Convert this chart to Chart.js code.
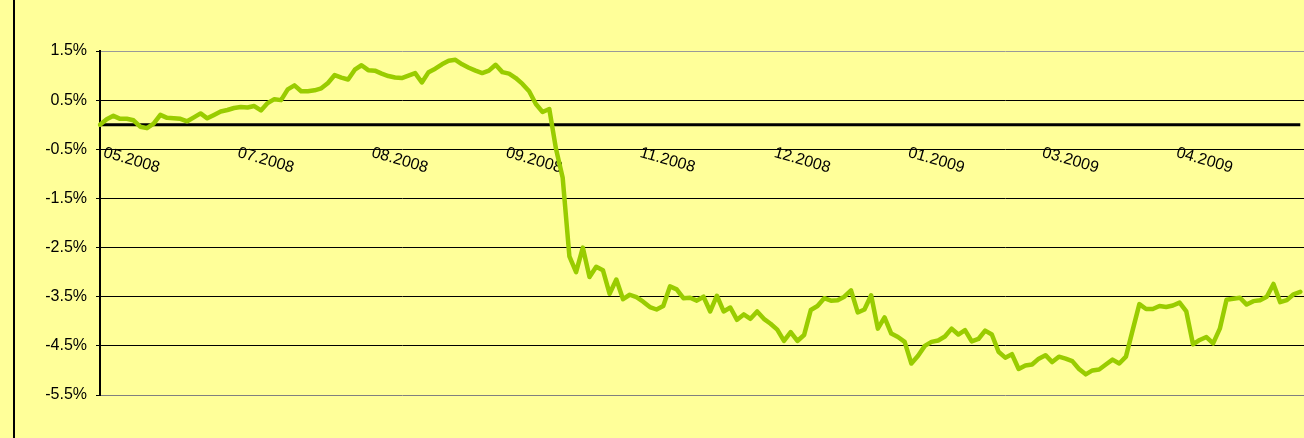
<!DOCTYPE html>
<html>
<head>
<meta charset="utf-8">
<script src="https://cdn.jsdelivr.net/npm/chart.js@4.4.1/dist/chart.umd.min.js"></script>
<style>
  html, body { margin: 0; padding: 0; background: #FFFF99; overflow: hidden; }
  #wrap { position: relative; width: 1307px; height: 438px; }
  #frame { position: absolute; left: 13px; top: 0; bottom: 0; border-left: 2px solid #000; }
</style>
</head>
<body>
<div id="wrap">
  <canvas id="chart" width="1307" height="438"></canvas>
  <div id="frame"></div>
</div>
<script>
// month labels shown every labelStep points
var tickLabels = ['05.2008', '07.2008', '08.2008', '09.2008', '11.2008', '12.2008', '01.2009', '03.2009', '04.2009']
var labelStep = 20

// cumulative return, %
var returns = [
  0.00, 0.11, 0.18, 0.12, 0.12, 0.09, -0.04, -0.07, 0.02, 0.20,
  0.14, 0.13, 0.12, 0.07, 0.15, 0.23, 0.13, 0.20, 0.27, 0.30,
  0.34, 0.36, 0.35, 0.38, 0.29, 0.44, 0.52, 0.50, 0.72, 0.80,
  0.68, 0.68, 0.70, 0.74, 0.85, 1.01, 0.96, 0.92, 1.12, 1.21,
  1.11, 1.10, 1.04, 0.99, 0.96, 0.95, 1.00, 1.05, 0.86, 1.07,
  1.14, 1.23, 1.30, 1.32, 1.23, 1.16, 1.10, 1.05, 1.10, 1.22,
  1.07, 1.04, 0.95, 0.83, 0.68, 0.42, 0.26, 0.32, -0.49, -1.08,
  -2.68, -3.00, -2.50, -3.10, -2.89, -2.96, -3.44, -3.15, -3.55, -3.46,
  -3.51, -3.60, -3.71, -3.76, -3.69, -3.29, -3.35, -3.53, -3.52, -3.58,
  -3.50, -3.80, -3.48, -3.80, -3.72, -3.97, -3.86, -3.95, -3.80, -3.95,
  -4.05, -4.17, -4.40, -4.22, -4.40, -4.28, -3.77, -3.69, -3.53, -3.58,
  -3.57, -3.50, -3.37, -3.82, -3.76, -3.47, -4.15, -3.92, -4.25, -4.32,
  -4.42, -4.86, -4.70, -4.50, -4.42, -4.39, -4.31, -4.15, -4.27, -4.18,
  -4.41, -4.36, -4.19, -4.27, -4.62, -4.74, -4.67, -4.97, -4.90, -4.88,
  -4.76, -4.69, -4.83, -4.72, -4.76, -4.81, -4.97, -5.08, -5.00, -4.98,
  -4.88, -4.78, -4.86, -4.72, -4.18, -3.65, -3.75, -3.75, -3.69, -3.71,
  -3.68, -3.62, -3.80, -4.47, -4.38, -4.32, -4.45, -4.15, -3.56, -3.54,
  -3.52, -3.66, -3.59, -3.57, -3.50, -3.24, -3.61, -3.57, -3.45, -3.40,
  -3.38
]

var yMin = -5.5
var yMax = 1.5
var yStep = 1

var categories = returns.map(function (v, i) {
  return i % labelStep === 0 ? tickLabels[i / labelStep] : ''
})
var zeroLine = returns.map(function () { return 0 })

// x labels sit under the zero line, tilted clockwise like the original
var slantedLabels = {
  id: 'slantedLabels',
  beforeDatasetsDraw: function (chart) {
    var ctx = chart.ctx
    var xs = chart.scales.x
    var y0 = chart.scales.y.getPixelForValue(0)
    ctx.save()
    ctx.font = '16px "Liberation Sans", Arial, sans-serif'
    ctx.fillStyle = '#000'
    ctx.textAlign = 'left'
    ctx.textBaseline = 'top'
    categories.forEach(function (lab, i) {
      if (!lab) return
      ctx.save()
      ctx.translate(xs.getPixelForValue(i) + 6, y0 + 20)
      ctx.rotate(16 * Math.PI / 180)
      ctx.fillText(lab, 0, 0)
      ctx.restore()
    })
    ctx.restore()
  }
}

new Chart(document.getElementById('chart').getContext('2d'), {
  type: 'line',
  data: {
    labels: categories,
    datasets: [{
      data: returns,
      borderColor: '#99CC00',
      borderWidth: 4.5,
      borderJoinStyle: 'round',
      borderCapStyle: 'round',
      pointRadius: 0,
      tension: 0,
      fill: false
    }, {
      data: zeroLine,
      borderColor: '#000000',
      borderWidth: 3,
      pointRadius: 0,
      tension: 0,
      fill: false
    }]
  },
  options: {
    responsive: false,
    animation: false,
    layout: { padding: { left: 14, top: 51, right: 0, bottom: 43 } },
    plugins: {
      legend: { display: false },
      tooltip: { enabled: false }
    },
    scales: {
      x: {
        display: false,
        offset: false
      },
      y: {
        min: yMin,
        max: yMax,
        afterFit: function (scale) { scale.width = 86 },
        afterBuildTicks: function (scale) {
          var t = []
          for (var v = yMin; v <= yMax + 1e-9; v += yStep) t.push({ value: +v.toFixed(2) })
          scale.ticks = t
        },
        border: { color: '#000', width: 2 },
        grid: {
          color: function (c) {
            if (c.tick && c.tick.value === yMax) return '#999999'
            if (c.tick && c.tick.value === yMin) return '#808080'
            return '#000000'
          },
          lineWidth: 1,
          tickLength: 4,
          tickColor: '#000'
        },
        ticks: {
          padding: 9,
          color: '#000',
          font: { family: '"Liberation Sans", Arial, sans-serif', size: 16 },
          callback: function (v) { return Number(v).toFixed(1) + '%' }
        }
      }
    }
  },
  plugins: [slantedLabels]
})
</script>
</body>
</html>
